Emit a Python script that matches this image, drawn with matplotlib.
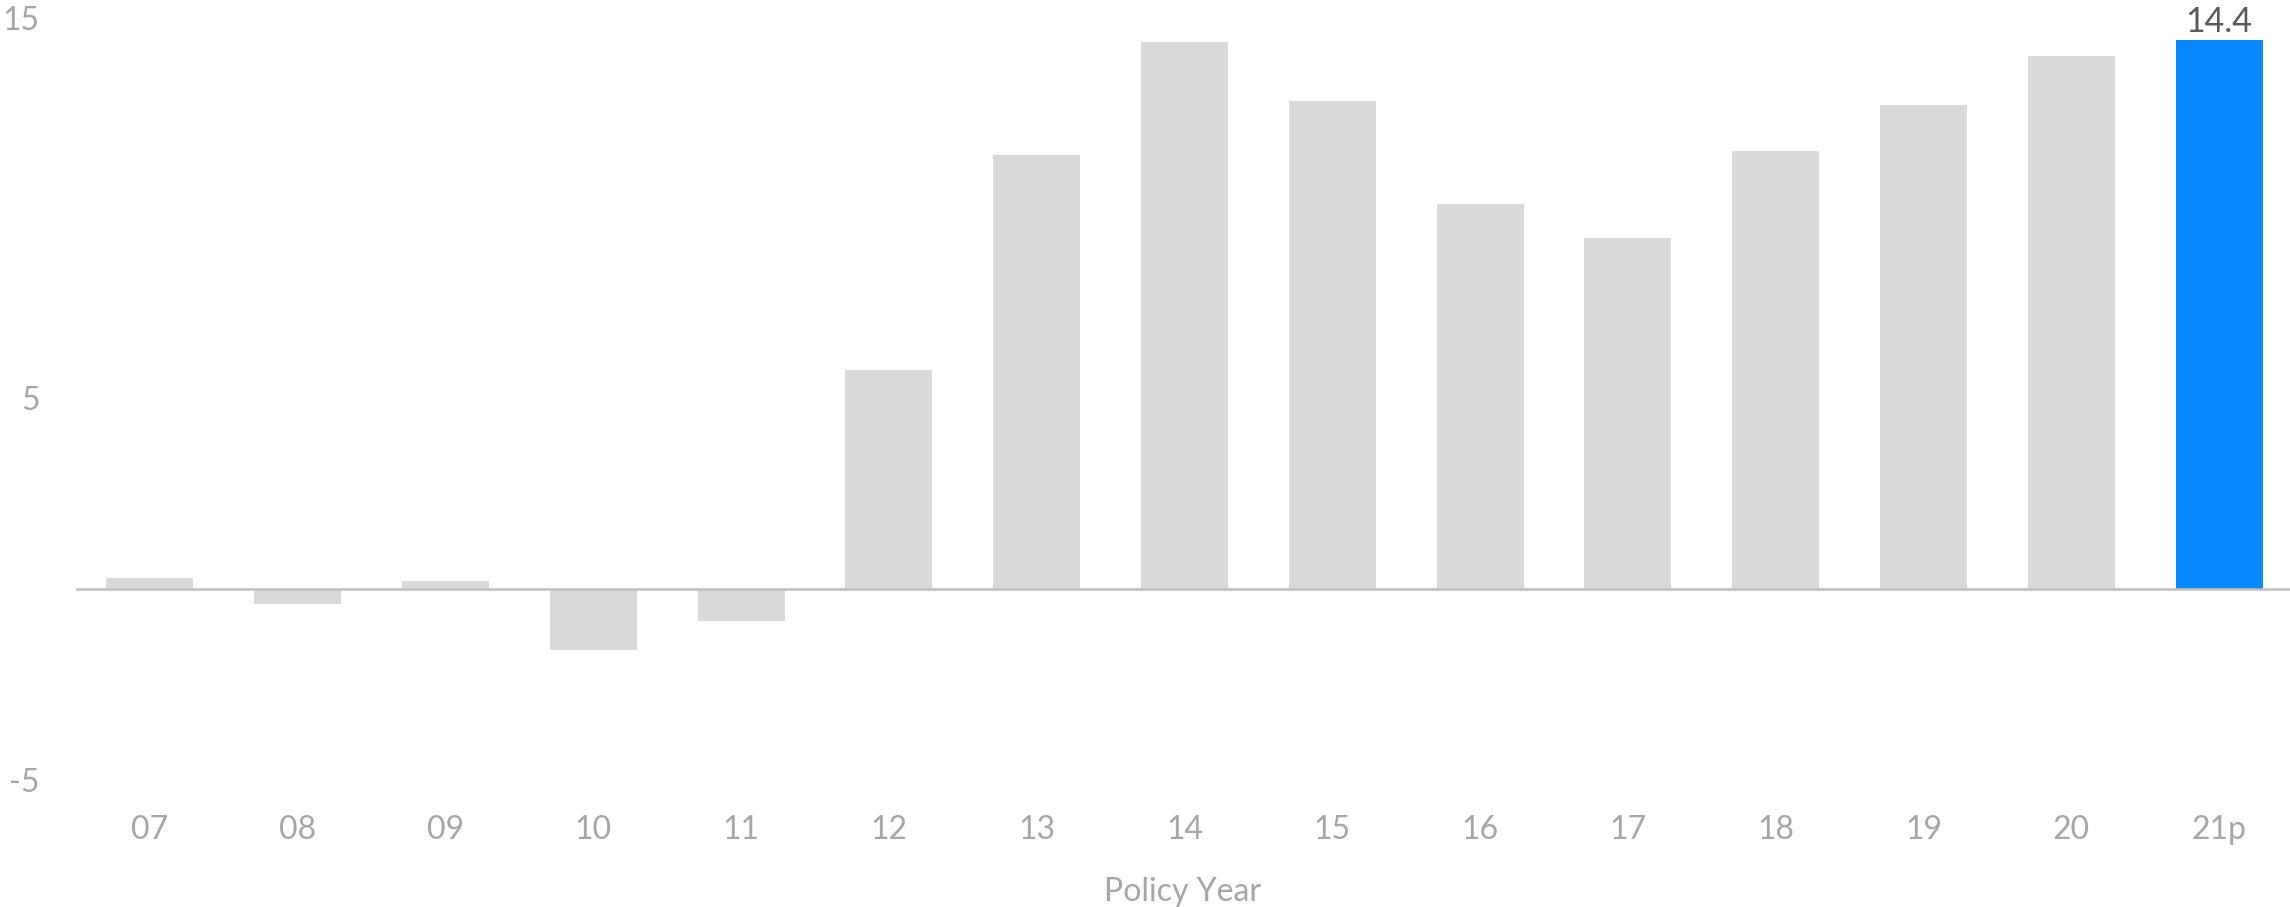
import matplotlib
matplotlib.use("Agg")
import matplotlib.pyplot as plt

# Policy-year changes
years = ["07", "08", "09", "10", "11", "12", "13", "14", "15", "16", "17", "18", "19", "20", "21p"]
values = [0.3, -0.4, 0.2, -1.6, -0.85, 5.75, 11.4, 14.35, 12.8, 10.1, 9.2, 11.5, 12.7, 14.0, 14.4]
highlight_year = "21p"
y_ticks = [-5, 5, 15]
x_title = "Policy Year"

GRAY_BAR = "#d9d9d9"
BLUE_BAR = "#0789fd"
TICK_GRAY = "#a6a6a6"
LABEL_DARK = "#595959"

plt.rcParams["font.family"] = ["Lato", "DejaVu Sans"]

W, H, DPI = 2290, 907, 100
fig = plt.figure(figsize=(W / DPI, H / DPI), dpi=DPI)
fig.patch.set_facecolor("white")

left_px, right_px = 76, 2290
top_px, bottom_px = 17.5, 779.5
ax = fig.add_axes([left_px / W, (H - bottom_px) / H,
                   (right_px - left_px) / W, (bottom_px - top_px) / H])

x = list(range(len(years)))
colors = [BLUE_BAR if y == highlight_year else GRAY_BAR for y in years]
bars = ax.bar(x, values, width=0.588, color=colors, zorder=2)

ax.axhline(0, color="#bfbfbf", linewidth=1.8, zorder=3)

ax.set_xlim(-0.5, 14.48)
ax.set_ylim(-5, 15)
ax.set_yticks(y_ticks)
ax.set_yticklabels([str(t) for t in y_ticks])
ax.set_xticks(x)
ax.set_xticklabels(years)

for s in ax.spines.values():
    s.set_visible(False)
ax.tick_params(axis="both", length=0, labelsize=23, colors=TICK_GRAY)
ax.tick_params(axis="y", pad=26)
ax.tick_params(axis="x", pad=25.5)

ax.set_xlabel(x_title, fontsize=23, color=TICK_GRAY, labelpad=23)

i = years.index(highlight_year)
ax.annotate(f"{values[i]:.1f}", xy=(x[i], values[i]), xytext=(0, 6),
            textcoords="offset points", ha="center", va="baseline",
            fontsize=24.5, color=LABEL_DARK, annotation_clip=False)

fig.savefig("out.png", dpi=DPI, facecolor="white")
